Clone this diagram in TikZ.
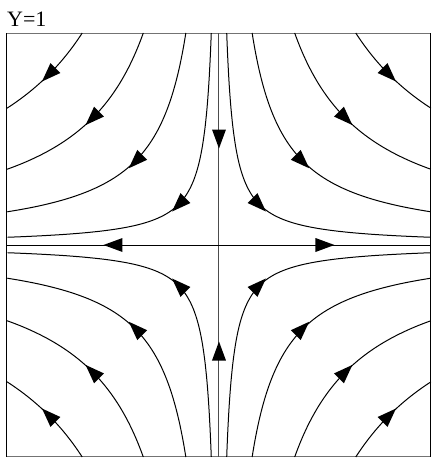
\documentclass[tikz,border=0pt]{standalone}
\usepackage{fontspec}
\setmainfont{Liberation Serif}
\tikzset{
  flow/.style={line width=1pt},
  axisv/.style={line width=1pt, draw=black!70},
  frameh/.style={line width=1pt, draw=black!55},
  framev/.style={line width=1pt, draw=black},
  lbl/.style={font=\fontsize{22}{26}\selectfont, inner sep=0pt, anchor=base west}
}
\newcommand{\flowtip}[3]{\fill[shift={(#1,#2)}, rotate=#3] (9.5pt,0pt) -- (-9.5pt,7pt) -- (-9.5pt,-7pt) -- cycle;}
\begin{document}
\begin{tikzpicture}[x=212pt,y=212pt]
\useasboundingbox (-1.0330,-1.0236) rectangle (1.0094,1.1557);
% frame corners
\coordinate (TL) at (-1,1);
\coordinate (TR) at (1,1);
\coordinate (BL) at (-1,-1);
\coordinate (BR) at (1,-1);
\draw[frameh] (TL) -- (TR);
\draw[frameh] (BL) -- (BR);
\draw[framev] (TL) -- (BL);
\draw[framev] (TR) -- (BR);
% label
\node[lbl] (title) at (-1.0,1.033) {Y=1};
% hyperbolic streamlines
\foreach \sx in {-1,1}{
  \foreach \sy in {-1,1}{
    \foreach \c in {0.036,0.155,0.357,0.645}{
      \pgfmathsetmacro{\L}{ln(\c)}
      \pgfmathsetmacro{\r}{sqrt(\c)}
      \pgfmathsetmacro{\ang}{atan2(-\sy,\sx)}
      \draw[flow] plot[domain=0:1, samples=70, variable=\q]
        ({\sx*exp((1-\q)*\L)},{\sy*exp(\q*\L)});
      \flowtip{\sx*\r}{\sy*\r}{\ang}
    }
  }
}
% axes
\coordinate (T) at (0,1);
\coordinate (B) at (0,-1);
\coordinate (L) at (-1,0);
\coordinate (R) at (1,0);
\coordinate (O) at (0,0);
\draw[axisv] (T) -- (O);
\draw[axisv] (B) -- (O);
\draw[flow] (O) -- (L);
\draw[flow] (O) -- (R);
\flowtip{0}{0.5}{-90}
\flowtip{0}{-0.5}{90}
\flowtip{-0.5}{0}{180}
\flowtip{0.5}{0}{0}
\end{tikzpicture}
\end{document}
